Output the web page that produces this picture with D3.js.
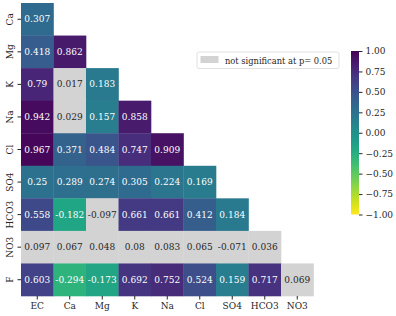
<!DOCTYPE html>
<html><head><meta charset="utf-8">
<script src="https://cdn.jsdelivr.net/npm/d3@7"></script>
<style>body{margin:0;background:#fff;} text{font-family:"DejaVu Serif",serif;}</style>
</head><body>
<svg id="c" width="396" height="316"></svg>
<script>
const rowLabels = ["Ca","Mg","K","Na","Cl","SO4","HCO3","NO3","F"];
const colLabels = ["EC","Ca","Mg","K","Na","Cl","SO4","HCO3","NO3"];
const values = [
  [0.307],
  [0.418, 0.862],
  [0.79, 0.017, 0.183],
  [0.942, 0.029, 0.157, 0.858],
  [0.967, 0.371, 0.484, 0.747, 0.909],
  [0.25, 0.289, 0.274, 0.305, 0.224, 0.169],
  [0.558, -0.182, -0.097, 0.661, 0.661, 0.412, 0.184],
  [0.097, 0.067, 0.048, 0.08, 0.083, 0.065, -0.071, 0.036],
  [0.603, -0.294, -0.173, 0.692, 0.752, 0.524, 0.159, 0.717, 0.069]
];
const significant = [
  [1],
  [1,1],
  [1,0,1],
  [1,0,1,1],
  [1,1,1,1,1],
  [1,1,1,1,1,1],
  [1,1,0,1,1,1,1],
  [0,0,0,0,0,0,0,0],
  [1,1,1,1,1,1,1,1,0]
];
const cbarTicks = [1.00,0.75,0.50,0.25,0.00,-0.25,-0.50,-0.75,-1.00];
const legendLabel = "not significant at p= 0.05";

const svg = d3.select("#c");
const x = d3.scaleBand().domain(colLabels).range([21, 313.5]).padding(0);
const y = d3.scaleBand().domain(rowLabels).range([3, 296]).padding(0);
const color = v => d3.interpolateViridis(1 - (v + 1) / 2);
const gray = "#d3d3d3";

const cells = [];
values.forEach((row, i) => row.forEach((v, j) => cells.push({r: rowLabels[i], c: colLabels[j], v, sig: significant[i][j]})));

function lum(col){
  const c = d3.rgb(col);
  const f = u => { u/=255; return u <= 0.03928 ? u/12.92 : Math.pow((u+0.055)/1.055, 2.4); };
  return 0.2126*f(c.r)+0.7152*f(c.g)+0.0722*f(c.b);
}

const g = svg.append("g");
g.selectAll("rect.cell").data(cells).enter().append("rect")
  .attr("x", d => x(d.c)).attr("y", d => y(d.r))
  .attr("width", x.bandwidth()+0.3).attr("height", y.bandwidth()+0.3)
  .attr("fill", d => d.sig ? color(d.v) : gray);
g.selectAll("text.val").data(cells).enter().append("text")
  .attr("x", d => x(d.c) + x.bandwidth()/2)
  .attr("y", d => y(d.r) + y.bandwidth()/2)
  .attr("text-anchor","middle").attr("dominant-baseline","central")
  .attr("font-size", "9px")
  .attr("fill", d => lum(d.sig ? color(d.v) : gray) > 0.408 ? "#262626" : "#ffffff")
  .text(d => String(d.v));

// axes
const xAxis = d3.axisBottom(x).tickSize(3.5).tickPadding(3);
const xg = svg.append("g").attr("transform","translate(0,296)").call(xAxis);
xg.select(".domain").remove();
xg.selectAll("text").attr("font-size","9px").attr("fill","#262626").style("font-family","DejaVu Serif");
xg.selectAll("line").attr("stroke","#262626");

const yAxis = d3.axisLeft(y).tickSize(3.5).tickPadding(3);
const yg = svg.append("g").attr("transform","translate(21,0)").call(yAxis);
yg.select(".domain").remove();
yg.selectAll("line").attr("stroke","#262626");
yg.selectAll("text").attr("font-size","9px").attr("fill","#262626").style("font-family","DejaVu Serif")
  .attr("text-anchor","middle").attr("dy",null).attr("dominant-baseline","central")
  .attr("x",-11).attr("transform","rotate(-90,-11,0)").attr("y",0);

// colorbar
const defs = svg.append("defs");
const grad = defs.append("linearGradient").attr("id","cb").attr("x1",0).attr("y1",1).attr("x2",0).attr("y2",0);
d3.range(0,1.0001,0.05).forEach(t => grad.append("stop").attr("offset", t).attr("stop-color", color(-1 + 2*t)));
const cbY = d3.scaleLinear().domain([-1,1]).range([214.5,51]);
svg.append("rect").attr("x",351).attr("y",51).attr("width",8).attr("height",163.5).attr("fill","url(#cb)");
const cbAxis = d3.axisRight(cbY).tickValues(cbarTicks).tickSize(3.5).tickPadding(3)
  .tickFormat(d => d3.format(".2f")(d).replace("-","\u2212"));
const cg = svg.append("g").attr("transform","translate(359,0)").call(cbAxis);
cg.select(".domain").remove();
cg.selectAll("line").attr("stroke","#262626");
cg.selectAll("text").attr("font-size","9px").attr("fill","#262626").style("font-family","DejaVu Serif");

// legend
const lg = svg.append("g");
lg.append("rect").attr("x",197).attr("y",52).attr("width",142).attr("height",16.5).attr("rx",2)
  .attr("fill","#fff").attr("stroke","#d9d9d9").attr("stroke-width",0.8);
lg.append("rect").attr("x",200.5).attr("y",56).attr("width",18).attr("height",7).attr("fill",gray);
lg.append("text").attr("x",225).attr("y",60.5).attr("dominant-baseline","central")
  .attr("font-size","8.3px").attr("fill","#262626").text(legendLabel);
</script>
</body></html>
